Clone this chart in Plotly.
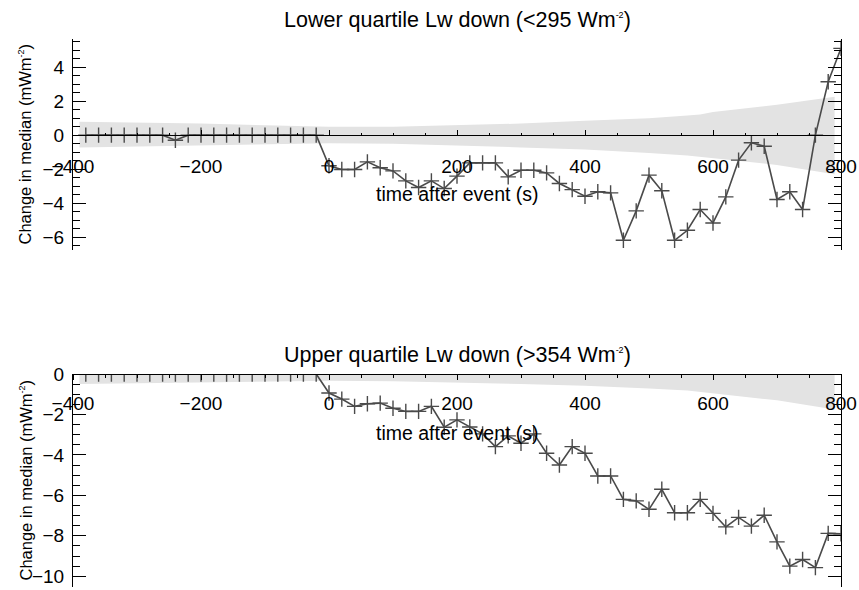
import plotly.graph_objects as go

# ---------------------------------------------------------------- data
# time after event (s) for each bin
t_pre = [-380, -360, -340, -320, -300, -280, -260, -240, -220, -200,
         -180, -160, -140, -120, -100, -80, -60, -40, -20]
t_post = [0, 20, 40, 60, 80, 100, 120, 140, 160, 180, 200, 220, 240, 260,
          280, 300, 320, 340, 360, 380, 400, 420, 440, 460, 480, 500, 520,
          540, 560, 580, 600, 620, 640, 660, 680, 700, 720, 740, 760, 780, 800]
times = t_pre + t_post

# lower quartile Lw down (<295 W m-2): change in median (mW m-2)
low_pre = [0, 0, 0, 0, 0, 0, 0, -0.3, 0, 0,
           0, 0, 0, 0, 0, 0, 0, 0, 0]
low_post = [-1.8, -2.02, -2.02, -1.57, -1.92, -2.1, -2.69, -3.08, -2.69,
            -3.14, -2.41, -1.63, -1.63, -1.63, -2.45, -2.06, -2.06, -2.22,
            -2.84, -3.2, -3.59, -3.33, -3.39, -6.18, -4.45, -2.35, -3.27,
            -6.18, -5.59, -4.37, -5.16, -3.63, -1.47, -0.45, -0.65, -3.78,
            -3.33, -4.37, 0.0, 3.14, 5.1]
low_vals = low_pre + low_post

# upper quartile Lw down (>354 W m-2): change in median (mW m-2)
up_pre = [0] * 19
up_post = [-0.94, -1.24, -1.6, -1.47, -1.44, -1.69, -1.85, -1.85, -1.6,
           -2.63, -2.27, -2.62, -2.96, -3.59, -3.06, -3.42, -2.96, -3.92,
           -4.5, -3.59, -3.92, -5.04, -5.04, -6.2, -6.27, -6.69, -5.7,
           -6.86, -6.86, -6.2, -6.89, -7.56, -7.09, -7.52, -6.98, -8.3,
           -9.5, -9.17, -9.57, -7.88, -7.9]
up_vals = up_pre + up_post

# spread of the null distribution (grey envelope)
band_t = [-390, -300, -200, -100, 0, 100, 200, 300, 400, 500, 560, 580,
          600, 650, 700, 790]
low_band_hi = [0.78, 0.74, 0.68, 0.58, 0.5, 0.5, 0.58, 0.68, 0.84, 1.0,
               1.15, 1.22, 1.36, 1.56, 1.78, 2.25]
low_band_lo = [-0.72, -0.68, -0.62, -0.55, -0.48, -0.5, -0.6, -0.72,
               -0.85, -1.05, -1.2, -1.27, -1.35, -1.55, -1.75, -2.3]
up_band_lo = [-0.5, -0.46, -0.42, -0.37, -0.33, -0.36, -0.42, -0.5, -0.58,
              -0.72, -0.82, -0.87, -0.93, -1.12, -1.3, -1.75]
up_band_hi = [-v for v in up_band_lo]

x_ticks = [-400, -200, 0, 200, 400, 600, 800]

# ---------------------------------------------------------------- layout constants
W, H = 859, 590
FONT = "Liberation Sans, Arial, Helvetica, sans-serif"
INK = "#4a4a4a"
BAND = "#e3e3e3"

px_left, px_right = 73, 841
top_px = (39, 250)       # panel 1 vertical extent (pixels from top)
bot_px = (374, 587)      # panel 2 vertical extent
y1_range = [-6.75, 5.65]
y2_range = [-10.53, 0.0]


def xdom():
    return [px_left / W, px_right / W]


def ydom(p):
    return [1 - p[1] / H, 1 - p[0] / H]


def ypos(dom, rng, value):
    return dom[0] + (value - rng[0]) / (rng[1] - rng[0]) * (dom[1] - dom[0])


y1_dom = ydom(top_px)
y2_dom = ydom(bot_px)

fig = go.Figure()


def envelope(tx, hi, lo, xa, ya):
    fig.add_trace(go.Scatter(
        x=tx + tx[::-1], y=hi + lo[::-1], fill="toself", fillcolor=BAND,
        mode="lines", line=dict(width=0), hoverinfo="skip",
        showlegend=False, xaxis=xa, yaxis=ya))


def series(tx, vals, xa, ya):
    fig.add_trace(go.Scatter(
        x=tx, y=vals, mode="lines+markers",
        line=dict(color=INK, width=1.6),
        marker=dict(symbol="cross-thin", size=11,
                    line=dict(color=INK, width=1.4)),
        showlegend=False, xaxis=xa, yaxis=ya))


envelope(band_t, low_band_hi, low_band_lo, "x", "y")
series(times, low_vals, "x", "y")
envelope(band_t, up_band_hi, up_band_lo, "x2", "y2")
series(times, up_vals, "x2", "y2")

tickfont = dict(family=FONT, size=19, color="black")


def x_axis(position, ticks, standoff):
    return dict(
        domain=xdom(), range=[-400, 800], anchor="free", position=position,
        side="bottom", showline=True, linecolor="black", linewidth=1,
        tickmode="array", tickvals=x_ticks, ticks=ticks, ticklen=5,
        tickwidth=1, tickcolor="black",
        minor=dict(dtick=50, tick0=0, ticks=ticks, ticklen=2.5,
                   tickcolor="black", tickwidth=1),
        tickfont=tickfont, ticklabelstandoff=standoff, automargin=False,
        showgrid=False, zeroline=False)


def y_axis(dom, rng, anchor):
    return dict(
        domain=dom, range=rng, anchor=anchor, showline=True,
        linecolor="black", linewidth=1, mirror="ticks",
        dtick=2, tick0=0, ticks="inside", ticklen=13, tickwidth=1,
        tickcolor="black",
        minor=dict(dtick=0.5, ticks="inside", ticklen=7, tickcolor="black",
                   tickwidth=1),
        tickfont=tickfont, ticklabelstandoff=4, automargin=False,
        showgrid=False, zeroline=False)


sup = '<sup><span style="font-size:9px">-2</span></sup>'
titlefont = dict(family=FONT, size=21.5, color="black")
labfont = dict(family=FONT, size=19.5, color="black")
yfont = dict(family=FONT, size=16.5, color="black")
xc = (px_left + px_right) / 2 / W

annotations = [
    dict(text="Lower quartile Lw down (<295 Wm" + sup + ")",
         x=xc, y=1 - 20 / H, xref="paper", yref="paper",
         showarrow=False, font=titlefont, yanchor="middle"),
    dict(text="Upper quartile Lw down (>354 Wm" + sup + ")",
         x=xc, y=1 - 355 / H, xref="paper", yref="paper",
         showarrow=False, font=titlefont, yanchor="middle"),
    dict(text="time after event (s)", x=xc, y=1 - 194 / H,
         xref="paper", yref="paper", showarrow=False, font=labfont,
         yanchor="middle"),
    dict(text="time after event (s)", x=xc, y=1 - 433 / H,
         xref="paper", yref="paper", showarrow=False, font=labfont,
         yanchor="middle"),
    dict(text="Change in median (mWm" + sup + ")", textangle=-90,
         x=25 / W, y=sum(y1_dom) / 2, xref="paper", yref="paper",
         showarrow=False, font=yfont, xanchor="center", yanchor="middle"),
    dict(text="Change in median (mWm" + sup + ")", textangle=-90,
         x=25 / W, y=sum(y2_dom) / 2, xref="paper", yref="paper",
         showarrow=False, font=yfont, xanchor="center", yanchor="middle"),
]

fig.update_layout(
    width=W, height=H, margin=dict(l=0, r=0, t=0, b=0),
    paper_bgcolor="white", plot_bgcolor="white",
    font=dict(family=FONT, color="black"),
    xaxis=x_axis(ypos(y1_dom, y1_range, 0.0), "inside", 14),
    yaxis=y_axis(y1_dom, y1_range, "x"),
    xaxis2=x_axis(y2_dom[1], "outside", 7),
    yaxis2=y_axis(y2_dom, y2_range, "x2"),
    annotations=annotations,
)

fig.write_html("out.html")
